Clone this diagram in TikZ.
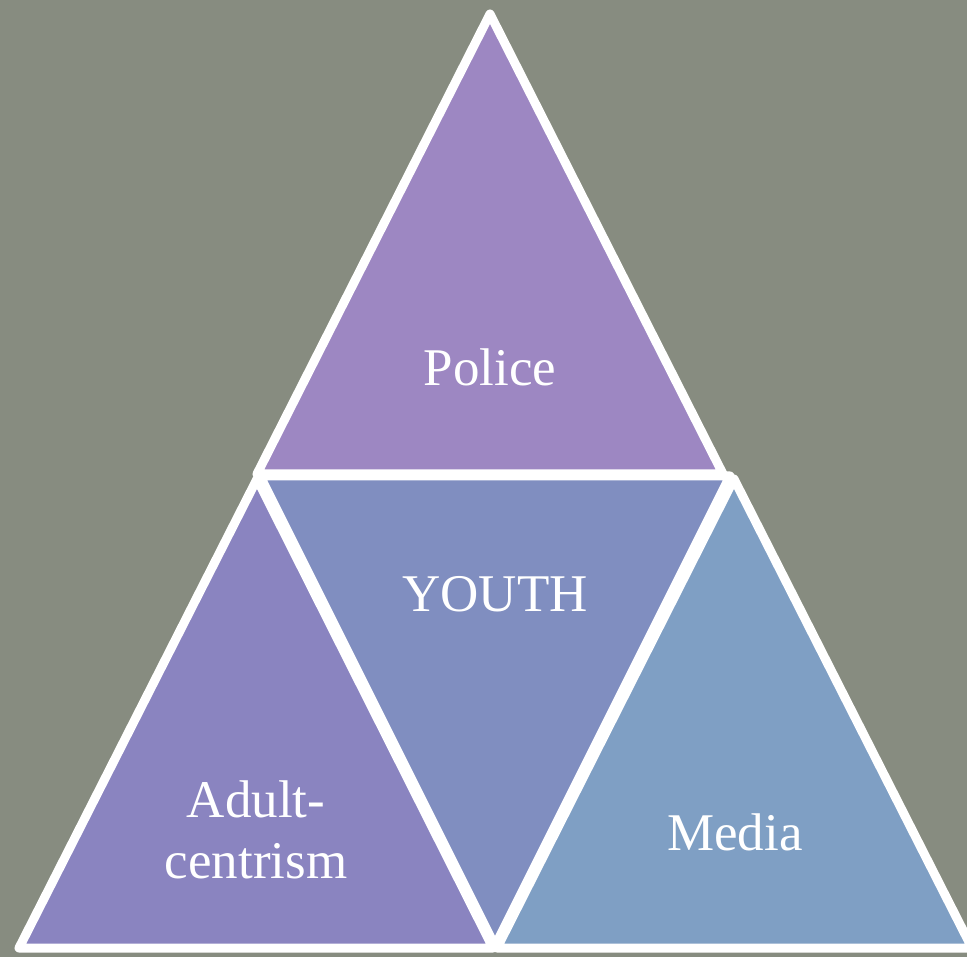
\documentclass[tikz,border=0pt]{standalone}
\usepackage{fontspec}
\setmainfont{Liberation Serif}
\definecolor{bgc}{HTML}{878C80}
\definecolor{topc}{HTML}{9D87C2}
\definecolor{leftc}{HTML}{8A84C0}
\definecolor{midc}{HTML}{808EC0}
\definecolor{rightc}{HTML}{7F9FC4}
\begin{document}
\begin{tikzpicture}[x=1pt,y=-1pt,
  tri/.style={draw=white,line width=9pt,line join=round},
  lbl/.style={text=white,font=\fontsize{53}{61}\selectfont,align=center,inner sep=0pt,anchor=base}]
\useasboundingbox (0,0) rectangle (967,957);
\fill[bgc] (0,0) rectangle (967,957);
% top triangle
\filldraw[tri,fill=topc] (490,14) -- (723,474) -- (257,474) -- cycle;
% middle inverted
\filldraw[tri,fill=midc] (260,476) -- (730,476) -- (495,946) -- cycle;
% left
\filldraw[tri,fill=leftc] (257,479) -- (493,948) -- (19,948) -- cycle;
% right
\filldraw[tri,fill=rightc] (734,479) -- (972,948) -- (497,948) -- cycle;
\node[lbl] (police) at (490,386) {Police};
\node[lbl] (youth) at (495,611) {YOUTH};
\node[lbl] (adult) at (256,817) {Adult-};
\node[lbl] (centrism) at (256,878) {centrism};
\node[lbl] (media) at (735,850) {Media};
\end{tikzpicture}
\end{document}
